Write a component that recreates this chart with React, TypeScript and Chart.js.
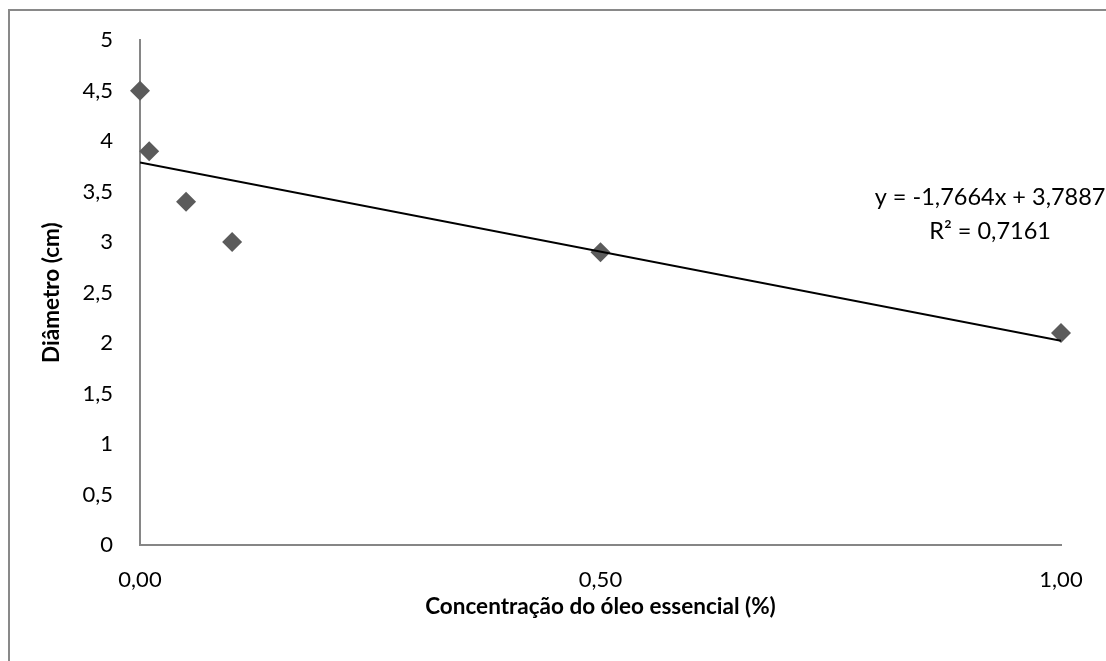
import React, { useEffect, useRef } from 'react';
import { Chart, registerables } from 'chart.js';

Chart.register(...registerables);

const concentrations = [0, 0.01, 0.05, 0.1, 0.5, 1.0];
const diameters = [4.5, 3.9, 3.4, 3.0, 2.9, 2.1];
const trendX = [0, 1];
const trendY = [3.7887, 2.0223];
const equationLines = ['y = -1,7664x + 3,7887', 'R² = 0,7161'];
const equationAnchor = { x: 0.923, y: 3.44 };
const xTitle = 'Concentração do óleo essencial (%)';
const yTitle = 'Diâmetro (cm)';

const FONT = 'Lato';

const equationPlugin = {
  id: 'equation',
  afterDraw(chart: any) {
    const { ctx, scales } = chart;
    const cx = scales.x.getPixelForValue(equationAnchor.x);
    const cy = scales.y.getPixelForValue(equationAnchor.y);
    ctx.save();
    ctx.font = `23.5px ${FONT}`;
    ctx.fillStyle = '#000';
    ctx.textAlign = 'center';
    ctx.textBaseline = 'middle';
    equationLines.forEach((t, i) => ctx.fillText(t, cx, cy + i * 34));
    ctx.restore();
  },
};

export default function App() {
  const ref = useRef<HTMLCanvasElement>(null);
  useEffect(() => {
    if (!ref.current) return;
    const chart = new Chart(ref.current, {
      type: 'scatter',
      data: {
        datasets: [
          {
            type: 'line',
            data: trendX.map((x, i) => ({ x, y: trendY[i] })),
            borderColor: '#000',
            borderWidth: 2,
            pointRadius: 0,
            fill: false,
            order: 0,
          } as any,
          {
            data: concentrations.map((x, i) => ({ x, y: diameters[i] })),
            pointStyle: 'rectRot',
            pointRadius: 10,
            backgroundColor: '#5b5b5b',
            borderColor: '#5b5b5b',
            borderWidth: 0,
            clip: false,
            order: 1,
          } as any,
        ],
      },
      options: {
        animation: false,
        responsive: true,
        maintainAspectRatio: false,
        layout: { padding: { left: 0, top: 40, right: 45, bottom: 0 } },
        plugins: { legend: { display: false }, tooltip: { enabled: false } },
        scales: {
          x: {
            type: 'linear',
            min: 0,
            max: 1,
            afterFit: (s: any) => { s.height = 116; },
            ticks: {
              stepSize: 0.5,
              padding: 22,
              color: '#000',
              font: { family: FONT, size: 22 },
              callback: (v: any) => Number(v).toFixed(2).replace('.', ','),
            },
            grid: { display: false, drawTicks: false },
            border: { display: true, color: '#868686', width: 2 },
            title: {
              display: true,
              text: xTitle,
              color: '#000',
              font: { family: FONT, size: 22.5, weight: 'bold' },
              padding: { top: 0, bottom: 40.5 },
            },
          },
          y: {
            type: 'linear',
            min: 0,
            max: 5,
            afterFit: (s: any) => { s.width = 140; },
            ticks: {
              stepSize: 0.5,
              padding: 27,
              color: '#000',
              font: { family: FONT, size: 22 },
              callback: (v: any) => String(v).replace('.', ','),
            },
            grid: { display: false, drawTicks: false },
            border: { display: true, color: '#868686', width: 2 },
            title: {
              display: true,
              text: yTitle,
              color: '#000',
              font: { family: FONT, size: 22.5, weight: 'bold' },
              padding: { top: 38.5, bottom: 0 },
            },
          },
        },
      },
      plugins: [equationPlugin],
    } as any);
    return () => chart.destroy();
  }, []);

  return (
    <div style={{ position: 'fixed', left: 0, top: 0, width: 1106, height: 661, overflow: 'hidden', background: '#fff' }}>
      <div style={{ position: 'absolute', left: 8, top: 9, width: 1300, height: 900, borderLeft: '2px solid #898989', borderTop: '2px solid #898989' }} />
      <div style={{ position: 'absolute', left: 0, top: 0, width: 1106, height: 661 }}>
        <canvas ref={ref} />
      </div>
    </div>
  );
}
